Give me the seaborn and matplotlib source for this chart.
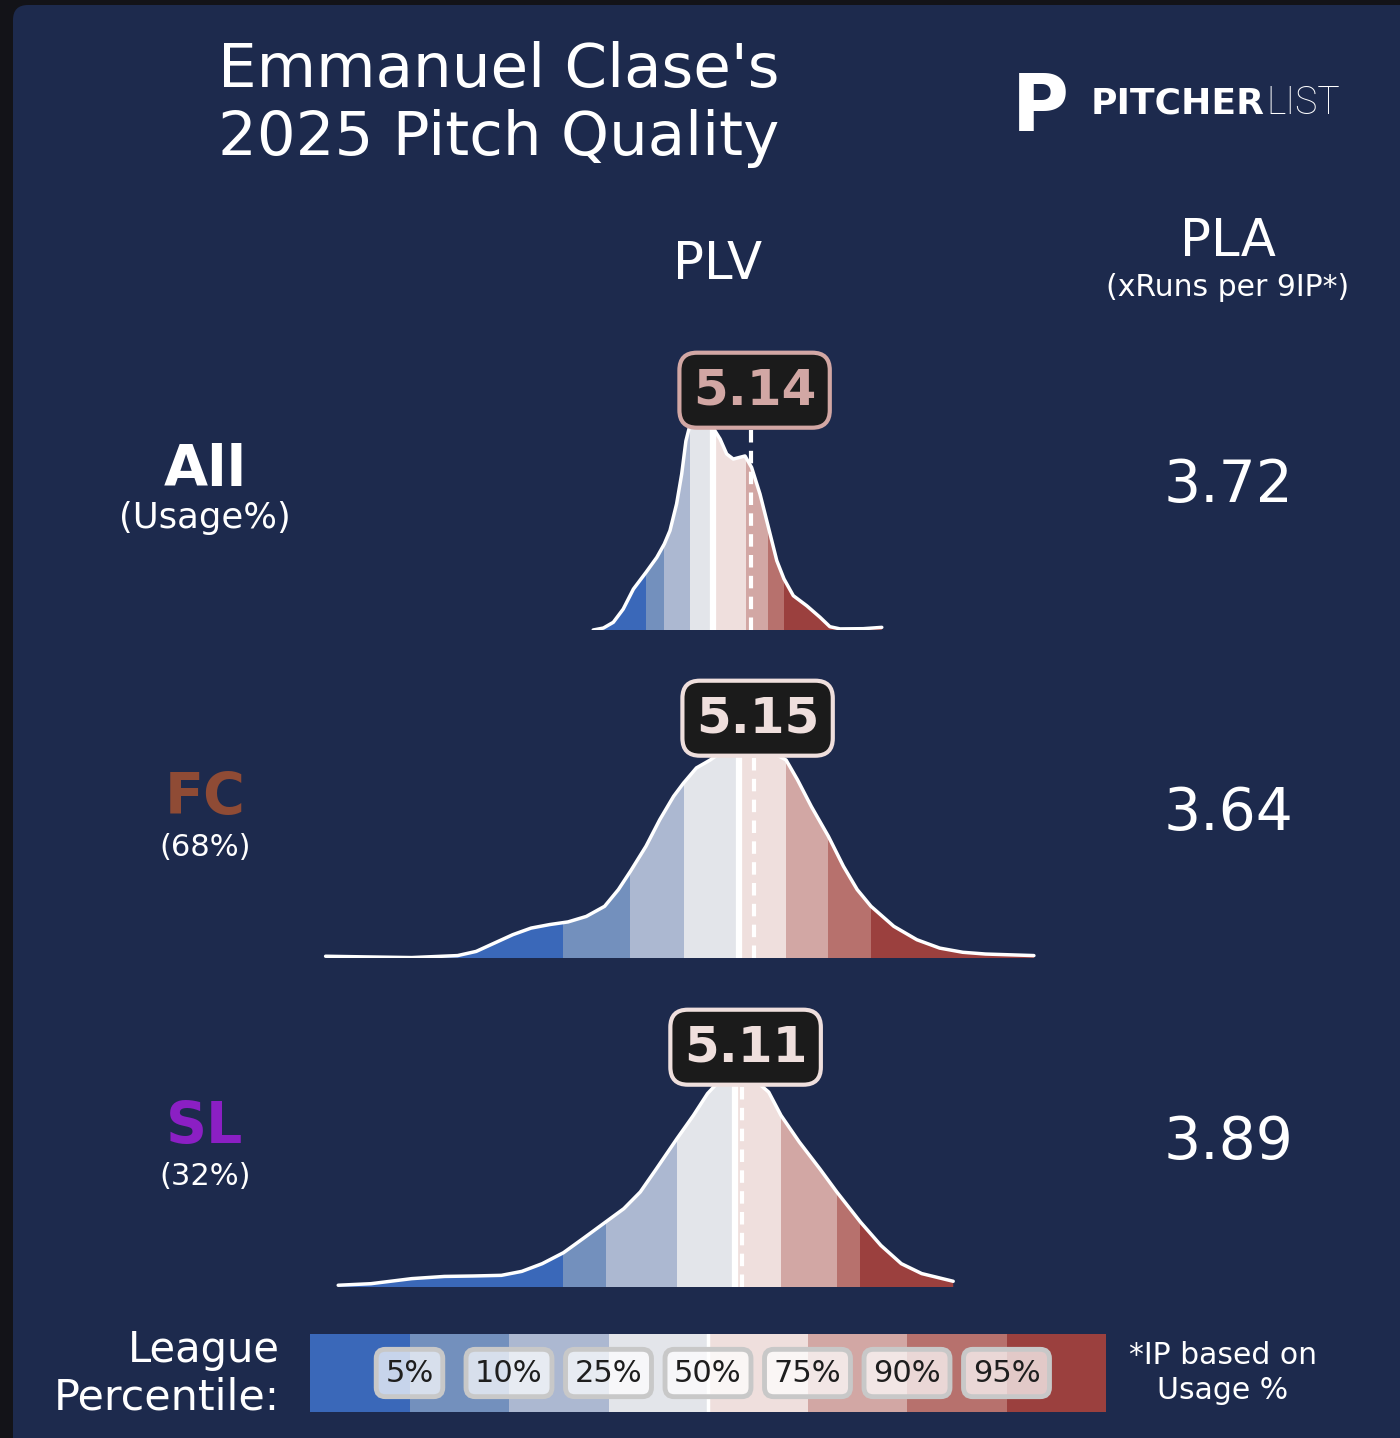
import numpy as np
import matplotlib
matplotlib.use('Agg')
import matplotlib.pyplot as plt
from matplotlib.colors import ListedColormap
from matplotlib.patches import FancyBboxPatch
import seaborn as sns

# Datos
player = "Emmanuel Clase's"
season = "2025 Pitch Quality"
row_names = ['All', 'FC', 'SL']
row_sub = ['(Usage%)', '(68%)', '(32%)']
row_colors = ['white', '#8f4b35', '#8b1fc4']
plv_values = [5.14, 5.15, 5.11]
pla_values = [3.72, 3.64, 3.89]

# percentiles de liga (5,10,25,50,75,90,95) en unidades PLV
pct_all = [4.79, 4.851, 4.937, 5.014, 5.122, 5.198, 5.25]
pct_fc = [4.515, 4.738, 4.915, 5.099, 5.257, 5.398, 5.54]
pct_sl = [4.515, 4.658, 4.893, 5.086, 5.24, 5.427, 5.505]

# densidad (normalizada)
x_all = [4.614, 4.648, 4.681, 4.714, 4.748, 4.79, 4.826, 4.851, 4.87, 4.892, 4.909, 4.923,
         4.94, 4.96, 4.98, 5.0, 5.02, 5.037, 5.059, 5.081, 5.103, 5.12, 5.142, 5.17, 5.198,
         5.226, 5.25, 5.281, 5.326, 5.37, 5.403, 5.437, 5.514, 5.576]
y_all = [0.0, 0.009, 0.035, 0.095, 0.186, 0.262, 0.33, 0.391, 0.452, 0.573, 0.709, 0.859,
         0.95, 0.99, 1.0, 0.96, 0.905, 0.868, 0.8, 0.777, 0.785, 0.791, 0.739, 0.618, 0.467,
         0.315, 0.232, 0.156, 0.11, 0.058, 0.015, 0.005, 0.006, 0.012]

x_fc = [3.722, 3.856, 4.009, 4.162, 4.224, 4.285, 4.346, 4.407, 4.469, 4.53, 4.591, 4.652,
        4.698, 4.738, 4.79, 4.836, 4.882, 4.915, 4.958, 5.004, 5.04, 5.08, 5.12, 5.16, 5.2,
        5.23, 5.257, 5.295, 5.341, 5.398, 5.448, 5.494, 5.54, 5.616, 5.693, 5.769, 5.846,
        5.922, 6.083]
y_fc = [0.008, 0.005, 0.002, 0.011, 0.03, 0.068, 0.106, 0.136, 0.152, 0.164, 0.189, 0.235,
        0.311, 0.394, 0.508, 0.629, 0.735, 0.795, 0.864, 0.90, 0.935, 0.955, 0.96, 0.955, 0.94,
        0.92, 0.90, 0.81, 0.689, 0.553, 0.417, 0.311, 0.235, 0.144, 0.083, 0.045, 0.026,
        0.018, 0.011]

x_sl = [3.764, 3.873, 4.009, 4.118, 4.213, 4.308, 4.376, 4.444, 4.515, 4.58, 4.658, 4.716,
        4.771, 4.825, 4.893, 4.948, 4.995, 5.03, 5.07, 5.1, 5.13, 5.17, 5.199, 5.24, 5.301,
        5.369, 5.426, 5.505, 5.573, 5.641, 5.709, 5.814]
y_sl = [0.008, 0.015, 0.038, 0.048, 0.05, 0.053, 0.071, 0.106, 0.156, 0.22, 0.298, 0.356,
        0.432, 0.538, 0.674, 0.78, 0.879, 0.93, 0.97, 0.98, 0.96, 0.92, 0.886, 0.78, 0.659,
        0.538, 0.432, 0.295, 0.189, 0.106, 0.061, 0.026]

pct_labels = ['5%', '10%', '25%', '50%', '75%', '90%', '95%']
band_colors = ['#3a68b9', '#7390bd', '#acb8d1', '#e3e5ea', '#efdfdd', '#d2a7a4', '#b7716d', '#9b403e']

BG = '#1d2a4d'
W, H = 1400, 1438


def fx(px):
    return px / W


def fy(py):
    return 1 - py / H


sns.set_theme(style='white')
plt.rcParams['font.family'] = ['DejaVu Sans']

fig = plt.figure(figsize=(W / 100, H / 100), dpi=100, facecolor='#131318')
fig.patches.append(FancyBboxPatch((0.13, -0.3), 14.5, 14.33 + 0.3, boxstyle='round,pad=0,rounding_size=0.15',
                                  transform=fig.dpi_scale_trans, fc=BG, ec='none', zorder=-10))

# titulo
fig.text(fx(218), fy(87), player, fontsize=44, color='white', va='baseline', ha='left')
fig.text(fx(218), fy(155), season, fontsize=44, color='white', va='baseline', ha='left')

# logo
fig.text(fx(1012), fy(131), 'P', fontsize=56, weight='bold', color='white', va='baseline', ha='left')
t = fig.text(fx(1091), fy(114), 'PITCHER', fontsize=26, weight='bold', color='white', va='baseline', ha='left')
fig.text(fx(1266), fy(114), 'LIST', fontsize=27, weight='light', color='white', va='baseline', ha='left',
         family=['Roboto', 'DejaVu Sans'])

# cabeceras
fig.text(fx(718), fy(279), 'PLV', fontsize=37, color='white', ha='center', va='baseline')
fig.text(fx(1228), fy(256), 'PLA', fontsize=37, color='white', ha='center', va='baseline')
fig.text(fx(1228), fy(296), '(xRuns per 9IP*)', fontsize=21.5, color='white', ha='center', va='baseline')

baselines = [630, 958, 1287]
curves = [(x_all, y_all, pct_all), (x_fc, y_fc, pct_fc), (x_sl, y_sl, pct_sl)]
xmin = 5.15 + (300 - 754) / 300
xmax = 5.15 + (1100 - 754) / 300

for i in range(3):
    xs, ys, pcts = curves[i]
    base = baselines[i]
    xs = np.array(xs)
    ys = np.array(ys)

    # etiquetas izquierda
    fig.text(fx(205), fy(base - 144), row_names[i], fontsize=41, weight='bold', color=row_colors[i],
             ha='center', va='baseline')
    fig.text(fx(205), fy(base - 102), row_sub[i], fontsize=22 if i else 25.5, color='white',
             ha='center', va='baseline')

    # PLA
    fig.text(fx(1228), fy(base - 128), f'{pla_values[i]:.2f}', fontsize=42, color='white',
             ha='center', va='baseline')

    ax = fig.add_axes([fx(300), fy(base), 800 / W, 280 / H])
    ax.set_xlim(xmin, xmax)
    ax.set_ylim(0, 280 / 220)
    ax.axis('off')

    poly = ax.fill_between(xs, ys, color='none', lw=0)
    clip = poly.get_paths()[0]
    edges = [xmin] + pcts + [xmax]
    for j in range(8):
        span = ax.axvspan(edges[j], edges[j + 1], color=band_colors[j], lw=0)
        span.set_clip_path(clip, ax.transData)
    med = ax.axvline(pcts[3], color='white', lw=4.5)
    med.set_clip_path(clip, ax.transData)

    val = plv_values[i]
    ax.plot([val, val], [0, 1.09], color='white', lw=3, ls=(0, (3, 2)), zorder=3)
    sns.lineplot(x=xs, y=ys, ax=ax, color='white', lw=2.5, sort=False, estimator=None, zorder=4,
                 solid_joinstyle='round', solid_capstyle='round')

    band = int(np.searchsorted(pcts, val))
    c = band_colors[band]
    ax.text(val + 0.012, 1.09, f'{val:.2f}', fontsize=36, weight='bold', color=c, ha='center', va='center',
            zorder=6, clip_on=False,
            bbox=dict(boxstyle='round,pad=0.27,rounding_size=0.35', fc='#1b1b1b', ec=c, lw=3))

# barra de percentiles
cax = fig.add_axes([fx(310), fy(1412), 796 / W, 78 / H])
sns.heatmap(np.arange(8)[None, :], cmap=ListedColormap(band_colors), vmin=0, vmax=7, cbar=False,
            ax=cax, xticklabels=False, yticklabels=False)
cax.axvline(4, color='white', lw=2.5)
for k, lab in enumerate(pct_labels):
    cax.text(k + 1, 0.5, lab, fontsize=22, color='#1e1e1e', ha='center', va='center',
             bbox=dict(boxstyle='round,pad=0.3', fc=(1, 1, 1, 0.72), ec='#c8c8c8', lw=3.5))

fig.text(fx(280), fy(1362), 'League', fontsize=30, color='white', ha='right', va='baseline')
fig.text(fx(280), fy(1410), 'Percentile:', fontsize=31, color='white', ha='right', va='baseline')
fig.text(fx(1223), fy(1364), '*IP based on', fontsize=21.5, color='white', ha='center', va='baseline')
fig.text(fx(1223), fy(1399), 'Usage %', fontsize=21.5, color='white', ha='center', va='baseline')

fig.savefig('out.png', dpi=100, facecolor=fig.get_facecolor())
